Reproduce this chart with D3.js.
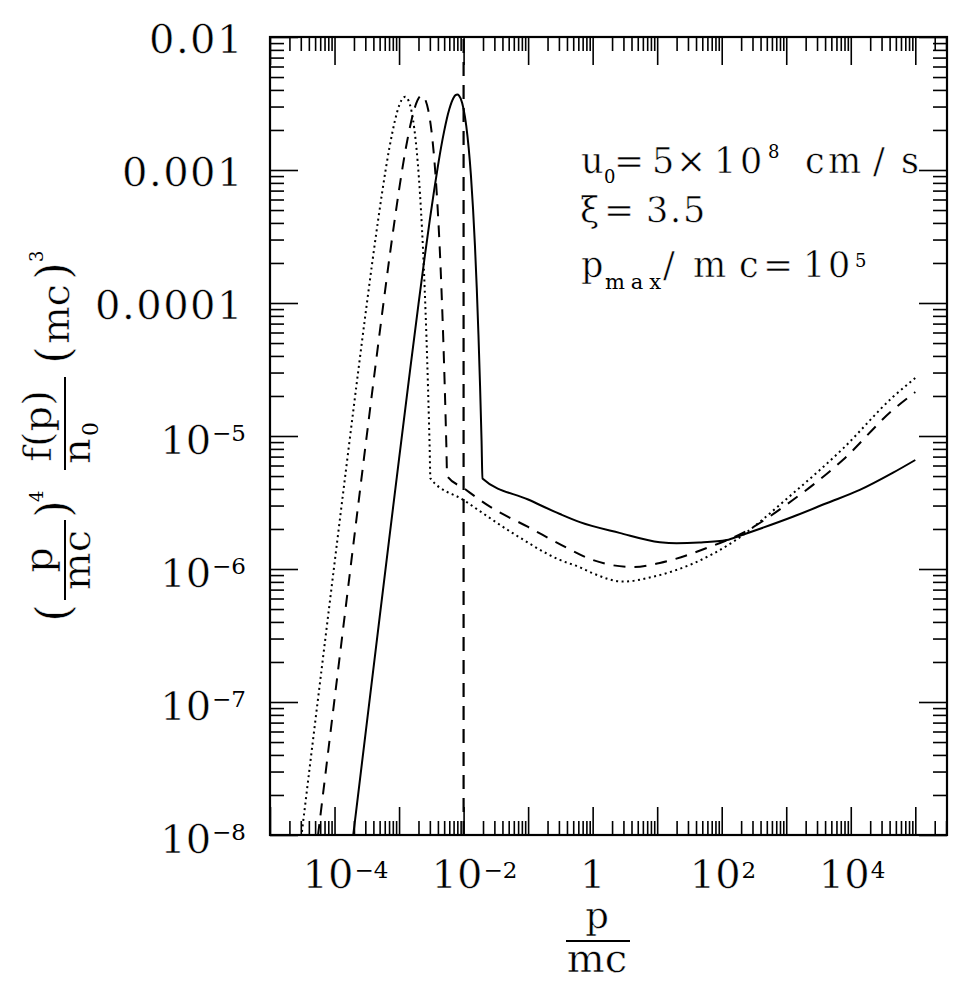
<!DOCTYPE html>
<html><head><meta charset="utf-8">
<script src="https://cdn.jsdelivr.net/npm/d3@7"></script>
<style>
body{margin:0;background:#fff}
svg text{font-family:"DejaVu Serif",serif;fill:#000}
svg text.big{stroke:#fff;stroke-width:0.5px}
svg text.big tspan.sup{stroke:none}
</style>
</head><body>
<svg id="chart" width="968" height="985"></svg>
<script>
// ---------- data ----------
const solidX = [1.95e-4,3e-4,5e-4,7e-4,1e-3,1.5e-3,2e-3,2.5e-3,3e-3,3.5e-3,4e-3,4.5e-3,5e-3,5.5e-3,6e-3,6.5e-3,7e-3,7.5e-3,8e-3,8.5e-3,9e-3,1e-2,1.1e-2,1.2e-2,1.3e-2,1.4e-2,1.5e-2,1.6e-2,1.7e-2,1.8e-2,1.9e-2,1.96e-2,
  0.1,0.311,0.634,2.6,11,20,45,120,191,1265,4210,13800,45300,1e5];
const solidY = [1.0e-8,5.62e-8,4.32e-7,1.65e-6,6.74e-6,3.28e-5,9.80e-5,2.23e-4,4.23e-4,7.07e-4,1.07e-3,1.50e-3,1.96e-3,2.43e-3,2.86e-3,3.23e-3,3.50e-3,3.66e-3,3.70e-3,3.63e-3,3.45e-3,2.87e-3,2.15e-3,1.46e-3,9.08e-4,5.16e-4,2.70e-4,1.30e-4,5.78e-5,2.38e-5,9.09e-6,4.8e-6,
  3.33e-6,2.59e-6,2.25e-6,1.87e-6,1.59e-6,1.56e-6,1.58e-6,1.65e-6,1.78e-6,2.47e-6,3.12e-6,3.93e-6,5.3e-6,6.6e-6];

const dashedX = [5.53e-5,8.51e-5,1.419e-4,1.987e-4,2.838e-4,4.257e-4,5.676e-4,7.095e-4,8.514e-4,9.933e-4,1.135e-3,1.277e-3,1.419e-3,1.561e-3,1.703e-3,1.845e-3,1.987e-3,2.129e-3,2.270e-3,2.412e-3,2.554e-3,2.838e-3,3.122e-3,3.406e-3,3.689e-3,3.973e-3,4.257e-3,4.541e-3,4.825e-3,5.108e-3,5.392e-3,5.562e-3,
  0.01,0.0256,0.1,0.4,1.0,4.2,11,59,213,1265,7530,44800,1e5];
const dashedY = [0.98e-8,5.51e-8,4.23e-7,1.62e-6,6.61e-6,3.21e-5,9.60e-5,2.19e-4,4.15e-4,6.93e-4,1.05e-3,1.47e-3,1.92e-3,2.38e-3,2.80e-3,3.17e-3,3.43e-3,3.59e-3,3.63e-3,3.56e-3,3.38e-3,2.81e-3,2.11e-3,1.43e-3,8.90e-4,5.06e-4,2.65e-4,1.27e-4,5.66e-5,2.33e-5,8.91e-6,5.0e-6,
  4.06e-6,2.94e-6,2.07e-6,1.44e-6,1.17e-6,1.035e-6,1.11e-6,1.44e-6,1.87e-6,3.30e-6,6.6e-6,1.57e-5,2.14e-5];

const dottedX = [3.05e-5,4.69e-5,7.82e-5,1.094e-4,1.563e-4,2.345e-4,3.126e-4,3.908e-4,4.689e-4,5.471e-4,6.252e-4,7.034e-4,7.815e-4,8.597e-4,9.378e-4,1.016e-3,1.094e-3,1.172e-3,1.250e-3,1.329e-3,1.407e-3,1.563e-3,1.719e-3,1.876e-3,2.032e-3,2.188e-3,2.345e-3,2.501e-3,2.657e-3,2.813e-3,2.970e-3,3.063e-3,
  0.01,0.0588,0.311,0.634,1.0,2.94,8.67,36.1,150,1280,7620,45300,1e5];
const dottedY = [0.96e-8,5.40e-8,4.15e-7,1.58e-6,6.47e-6,3.15e-5,9.41e-5,2.14e-4,4.06e-4,6.79e-4,1.03e-3,1.44e-3,1.88e-3,2.33e-3,2.75e-3,3.10e-3,3.36e-3,3.51e-3,3.55e-3,3.48e-3,3.31e-3,2.76e-3,2.06e-3,1.40e-3,8.72e-4,4.95e-4,2.59e-4,1.25e-4,5.55e-5,2.28e-5,8.73e-6,4.8e-6,
  3.30e-6,1.85e-6,1.17e-6,1.03e-6,9.3e-7,8.04e-7,8.75e-7,1.10e-6,1.60e-6,3.71e-6,8.07e-6,1.97e-5,2.73e-5];

const markerLineX = 0.01;           // vertical dashed line p/mc = 0.01

const xDomain = [1e-5, 3.1e5];
const yDomain = [1e-8, 1e-2];
const xTickValues = [1e-4, 1e-2, 1, 1e2, 1e4];
const xTickLabels = ["10^−4", "10^−2", "1", "10^2", "10^4"];
const yTickValues = [1e-2, 1e-3, 1e-4, 1e-5, 1e-6, 1e-7, 1e-8];
const yTickLabels = ["0.01", "0.001", "0.0001", "10^−5", "10^−6", "10^−7", "10^−8"];

// ---------- layout ----------
const L = 270, R = 947, T = 37, B = 835;
const svg = d3.select("#chart");
const x = d3.scaleLog().domain(xDomain).range([L, R]);
const y = d3.scaleLog().domain(yDomain).range([B, T]);

function decadeTicks(dom, major) {
  const out = [];
  const e0 = Math.floor(Math.log10(dom[0])), e1 = Math.ceil(Math.log10(dom[1]));
  for (let e = e0; e <= e1; e++) for (let k = 1; k <= 9; k++) {
    const v = k * Math.pow(10, e);
    if (v >= dom[0] * 0.9999 && v <= dom[1] * 1.0001 && ((k === 1) === major)) out.push(v);
  }
  return out;
}
const xMaj = decadeTicks(xDomain, true), xMin = decadeTicks(xDomain, false);
const yMaj = decadeTicks(yDomain, true), yMin = decadeTicks(yDomain, false);

function drawAxis(gen, tr, vals, size) {
  const g = svg.append("g").attr("transform", tr)
    .call(gen.tickValues(vals).tickSizeInner(size).tickSizeOuter(0).tickFormat(""));
  g.select(".domain").remove();
  g.selectAll(".tick line").attr("stroke", "#000").attr("stroke-width", 1.6);
}
const MAJ = 28, MIN = 14;
drawAxis(d3.axisBottom(x), `translate(0,${B})`, xMaj, -MAJ);
drawAxis(d3.axisBottom(x), `translate(0,${B})`, xMin, -MIN);
drawAxis(d3.axisTop(x), `translate(0,${T})`, xMaj, -MAJ);
drawAxis(d3.axisTop(x), `translate(0,${T})`, xMin, -MIN);
drawAxis(d3.axisLeft(y), `translate(${L},0)`, yMaj, -MAJ);
drawAxis(d3.axisLeft(y), `translate(${L},0)`, yMin, -MIN);
drawAxis(d3.axisRight(y), `translate(${R},0)`, yMaj, -MAJ);
drawAxis(d3.axisRight(y), `translate(${R},0)`, yMin, -MIN);

svg.append("rect").attr("x", L).attr("y", T).attr("width", R - L).attr("height", B - T)
  .attr("fill", "none").attr("stroke", "#000").attr("stroke-width", 2.2);

// ---------- tick labels ----------
xTickValues.forEach((v, i) => {
  const lab = xTickLabels[i];
  if (lab.includes("^")) {
    const [b, e] = lab.split("^");
    const t = svg.append("text").attr("class", "big").attr("x", x(v) - 32).attr("y", 888).attr("font-size", 40);
    t.append("tspan").text(b);
    t.append("tspan").attr("class", "sup").attr("font-size", 23).attr("dy", -10).attr("dx", 1).text(e);
  } else {
    svg.append("text").attr("class", "big").attr("x", x(v)).attr("y", 888).attr("font-size", 40)
      .attr("text-anchor", "middle").text(lab);
  }
});
yTickValues.forEach((v, i) => {
  const lab = yTickLabels[i];
  if (lab.includes("^")) {
    const [b, e] = lab.split("^");
    const t = svg.append("text").attr("class", "big").attr("x", 246).attr("y", y(v) + 18)
      .attr("font-size", 40).attr("text-anchor", "end");
    t.append("tspan").text(b);
    t.append("tspan").attr("class", "sup").attr("font-size", 23).attr("dy", -13).attr("dx", 1).text(e);
  } else {
    svg.append("text").attr("class", "big").attr("x", 244).attr("y", y(v) + 16)
      .attr("font-size", 40).attr("text-anchor", "end")
      .attr("letter-spacing", 1.5).text(lab);
  }
});

// ---------- curves ----------
svg.append("clipPath").attr("id", "clip").append("rect")
  .attr("x", L).attr("y", T).attr("width", R - L).attr("height", B - T);
const plot = svg.append("g").attr("clip-path", "url(#clip)");
const line = d3.line().x(d => x(d[0])).y(d => y(d[1])).curve(d3.curveMonotoneX);
const zip = (a, b) => a.map((v, i) => [v, b[i]]);

plot.append("path").datum(zip(solidX, solidY)).attr("d", line)
  .attr("fill", "none").attr("stroke", "#000").attr("stroke-width", 2);
plot.append("path").datum(zip(dashedX, dashedY)).attr("d", line)
  .attr("fill", "none").attr("stroke", "#000").attr("stroke-width", 2)
  .attr("stroke-dasharray", "12,9");
plot.append("path").datum(zip(dottedX, dottedY)).attr("d", line)
  .attr("fill", "none").attr("stroke", "#000").attr("stroke-width", 2)
  .attr("stroke-dasharray", "2,3.5");
plot.append("path").datum([[markerLineX, yDomain[0]], [markerLineX, yDomain[1]]])
  .attr("d", d3.line().x(d => x(d[0])).y(d => y(d[1])))
  .attr("fill", "none").attr("stroke", "#000").attr("stroke-width", 2.2)
  .attr("stroke-dasharray", "14,9");

// ---------- annotation (glyph groups placed as in the reference) ----------
function txt(s, xx, yy, fs, len) {
  const t = svg.append("text").attr("x", xx).attr("y", yy).attr("font-size", fs).text(s);
  if (fs >= 30) t.attr("class", "big");
  if (len) t.attr("textLength", len).attr("lengthAdjust", "spacing");
  return t;
}
// line 1: u0=5×10^8 cm/s
txt("u", 581, 173, 35);
txt("0", 604, 183, 18);
txt("=", 614, 173, 36);
txt("5", 652, 173, 35);
txt("×", 676, 173, 36);
txt("1", 714, 173, 35);
txt("0", 740, 173, 35);
txt("8", 768, 158, 18);
txt("c", 805, 173, 35);
txt("m", 828, 173, 35);
txt("/", 873, 173, 35);
txt("s", 901, 173, 35);
// line 2: ξ=3.5
txt("ξ", 580, 222, 35);
txt("=", 604, 222, 36);
txt("3", 646, 222, 35);
txt(".", 670, 222, 35);
txt("5", 683, 222, 35);
// line 3: p_max/mc=10^5
txt("p", 581, 277, 35);
txt("max", 605, 289, 21, 56);
txt("/", 663, 277, 35);
txt("m", 693, 277, 35);
txt("c", 739, 277, 35);
txt("=", 763, 277, 36);
txt("1", 803, 277, 35);
txt("0", 828, 277, 35);
txt("5", 855, 267, 18);

// ---------- x axis title ----------
svg.append("text").attr("class", "big").attr("x", 597).attr("y", 928).attr("font-size", 37).attr("text-anchor", "middle").text("p");
svg.append("line").attr("x1", 566).attr("x2", 630).attr("y1", 941).attr("y2", 941).attr("stroke", "#000").attr("stroke-width", 2);
svg.append("text").attr("class", "big").attr("x", 597).attr("y", 972).attr("font-size", 40).attr("text-anchor", "middle").text("mc");

// ---------- y axis title (rotated) ----------
const yt = svg.append("g").attr("transform", "translate(65,440) rotate(-90)");
function ytxt(s, u, v, fs, anchor, len) {
  const t = yt.append("text").attr("x", u).attr("y", v).attr("font-size", fs)
    .attr("text-anchor", anchor || "start").text(s);
  if (fs >= 30) t.attr("class", "big");
  if (len) t.attr("textLength", len).attr("lengthAdjust", "spacing");
  return t;
}
function ybar(u1, u2) {
  yt.append("line").attr("x1", u1).attr("x2", u2).attr("y1", 0).attr("y2", 0)
    .attr("stroke", "#000").attr("stroke-width", 2);
}
ytxt("(", -182, 4, 46);
ybar(-160, -80);
ytxt("p", -120, -13, 40, "middle");
ytxt("mc", -120, 25, 40, "middle");
ytxt(")", -78, 4, 46);
ytxt("4", -62, -22, 18);
ybar(-30, 63);
ytxt("f(p)", 14, -14, 40, "middle");
ytxt("n", -24, 25, 40);
ytxt("0", 4, 33, 22);
ytxt("(", 76, 4, 46);
ytxt("mc", 96, 4, 40, "start", 60);
ytxt(")", 160, 4, 46);
ytxt("3", 178, -22, 18);
</script>
</body></html>
